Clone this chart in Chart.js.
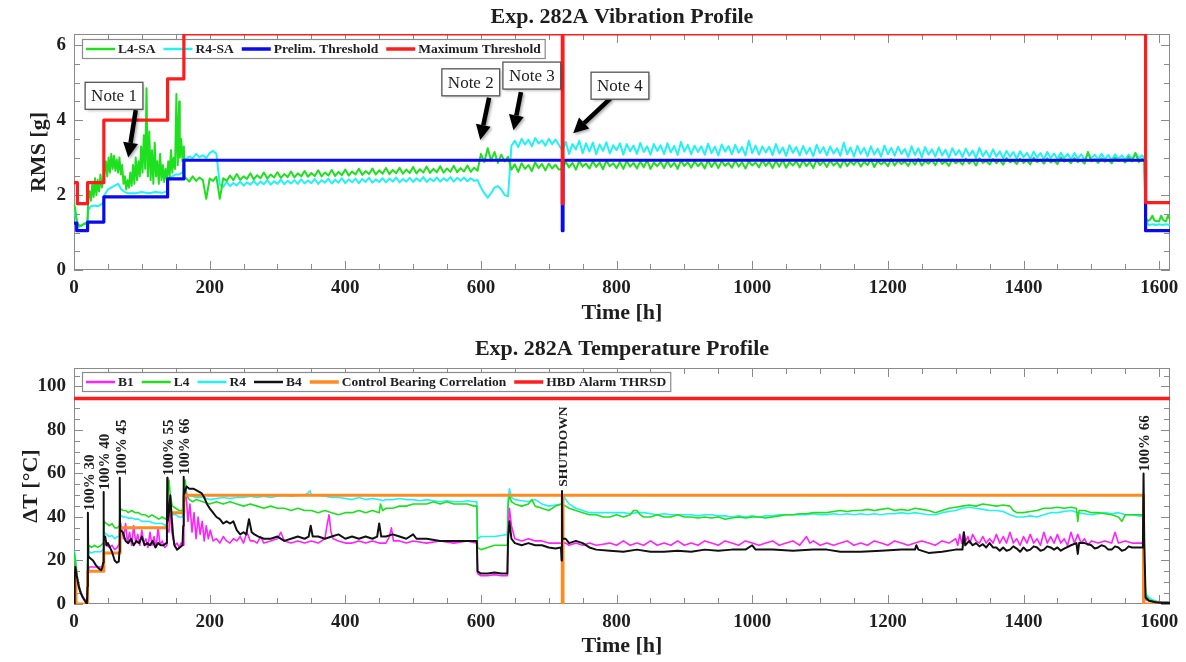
<!DOCTYPE html>
<html>
<head>
<meta charset="utf-8">
<script src="https://cdn.jsdelivr.net/npm/chart.js@4.4.0/dist/chart.umd.min.js"></script>
<style>
  html, body { margin: 0; padding: 0; background: #fff; }
  canvas { display: block; }
</style>
</head>
<body>
<canvas id="vib" width="1186" height="330"></canvas>
<canvas id="temp" width="1186" height="332"></canvas>
<script>
// ---- tick labels ----
const timeTicks = [0, 200, 400, 600, 800, 1000, 1200, 1400, 1600];
const rmsTicks = [0, 2, 4, 6];
const deltaTicks = [0, 20, 40, 60, 80, 100];

// ---- vibration profile (RMS [g]) ----
// early part, read point by point: [hour, g]
const l4Early = [[0,1.8],[2,1.6],[4,1.35],[6,1.2],[10,1.18],[14,1.22],[18,1.25],[20,1.3],[21,1.9],[23,2.1],[25,1.85],[27,2.3],[29,1.95],[31,2.45],[33,2.0],[35,2.4],[37,2.1],[39,2.55],[41,2.2],[43,2.4],[45,2.6],[47,2.9],[49,2.5],[51,3.0],[53,2.6],[55,3.1],[57,2.7],[59,3.05],[61,2.65],[63,2.95],[65,2.6],[67,3.0],[69,2.55],[71,2.8],[73,2.3],[75,2.5],[77,2.15],[79,2.4],[81,2.2],[83,2.6],[85,2.25],[87,2.8],[89,2.3],[91,3.0],[93,2.4],[95,2.9],[97,2.5],[99,3.3],[101,2.6],[103,3.6],[105,2.7],[107,4.85],[108,3.2],[109,2.5],[111,3.7],[113,2.4],[115,3.2],[117,2.3],[119,3.4],[121,2.5],[123,2.9],[125,2.3],[127,3.1],[129,2.4],[131,2.8],[133,2.35],[135,2.7],[137,2.4],[139,2.9],[141,2.5],[143,3.2],[145,2.6],[147,3.0],[149,2.7],[151,4.7],[152,3.4],[153,2.8],[155,4.5],[156,3.0],[158,3.5],[160,2.9],[162,3.3],[163,2.5]];
const r4Early = [[0,1.7],[2,1.45],[4,1.3],[8,1.15],[12,1.2],[16,1.25],[19,1.2],[21,1.6],[25,1.7],[30,1.72],[35,1.7],[40,1.75],[43,1.78],[45,2.0],[50,2.15],[55,2.2],[60,2.25],[65,2.3],[70,2.15],[75,2.08],[80,2.05],[90,2.05],[100,2.08],[110,2.05],[120,2.08],[130,2.06],[137,2.1],[139,2.45],[145,2.5],[150,2.55],[155,2.55],[160,2.6],[163,2.95]];

// 5 h samples from 165 h to 1575 h, in hundredths of g
const bandStart = 165;
const bandStep = 5;
const l4Band = [
  245,236,250,238,247,240,190,244,238,249,
  190,
  245,238,252,240,256,241,250,243,258,242,253,245,260,244,255,247,261,246,256,248,
  263,247,258,250,264,249,259,251,266,250,260,252,267,251,262,253,268,252,263,255,
  270,254,264,256,271,255,266,257,272,256,267,258,273,257,268,259,275,258,269,260,
  276,259,270,261,277,260,271,262,278,261,272,263,279,262,273,265,
  310,288,325,292,315,286,308,290,302,
  268,282,262,285,270,280,264,287,272,283,266,284,271,281,268,
  270,289,274,286,268,291,276,284,271,290,
  275,287,269,292,277,285,272,288,270,291,
  276,286,271,290,274,293,270,287,277,289,
  272,291,275,286,270,292,278,288,273,290,
  277,287,271,293,275,289,272,291,278,286,
  273,292,276,288,271,290,279,287,274,293,
  278,289,272,291,276,294,273,288,279,290,
  274,293,277,289,272,295,280,290,275,292,
  279,288,274,294,277,290,281,293,276,289,
  280,295,275,291,282,289,277,296,279,292,
  283,290,278,294,281,297,279,291,284,293,
  280,296,283,290,278,295,285,292,281,297,
  284,293,279,298,286,291,282,296,285,294,
  281,299,287,292,283,297,286,293,282,300,
  288,294,284,298,287,292,283,301,289,295,
  285,299,288,293,284,315,290,296,286,298,
  289,294,285,300,291,296,287,302,290,312,
  288,297
];
const r4Band = [
  296,303,298,310,301,306,299,312,318,310,
  228,222,235,224,232,226,236,225,234,228,
  238,227,236,229,240,228,237,230,241,229,
  238,231,240,230,242,231,239,232,243,230,
  240,233,244,231,241,233,245,232,242,234,
  244,232,243,235,246,233,242,235,245,234,
  244,236,247,234,243,236,246,235,245,237,
  248,235,244,237,247,236,245,238,248,236,
  246,238,247,237,245,238,240,
  220,205,193,205,220,224,215,200,197,
  332,345,328,350,335,348,330,352,338,346,332,350,336,348,334,
  318,342,310,336,322,345,312,338,316,340,
  309,335,318,341,311,333,320,338,308,336,
  317,332,310,339,315,330,308,336,318,333,
  310,338,314,331,307,342,316,334,309,332,
  315,330,308,337,312,329,306,335,316,331,
  309,334,313,328,306,345,312,332,308,330,
  314,329,307,336,311,327,305,333,313,328,
  306,331,310,326,304,334,312,328,306,330,
  311,325,305,340,309,327,303,331,310,326,
  304,330,308,324,303,332,309,326,305,329,
  310,323,302,330,307,325,301,328,308,322,
  303,327,306,321,300,325,307,320,302,324,
  305,319,299,326,304,318,300,322,303,317,
  298,318,302,315,297,317,301,313,296,316,
  300,312,295,315,299,311,296,313,298,310,
  295,312,297,309,294,311,298,308,295,310,
  296,307,293,309,297,306,294,308,296,312,
  298,306
];
const l4Tail = [[1578,2.9],[1580,1.4],[1583,1.3],[1587,1.35],[1590,1.45],[1593,1.32],[1597,1.3],[1600,1.3],[1603,1.45],[1606,1.33],[1610,1.3],[1613,1.45],[1616,1.35]];
const r4Tail = [[1578,3.0],[1580,1.3],[1585,1.2],[1590,1.22],[1595,1.2],[1600,1.22],[1605,1.2],[1610,1.22],[1616,1.2]];

// thresholds: value holds from this hour on
const prelimSteps = [[0,1.25],[4,1.05],[20,1.28],[44,1.95],[138,2.43],[162,2.93],[720,1.05],[721,2.93],[1580,1.05],[1616,1.05]];
const maxSteps = [[0,2.33],[5,1.77],[20,2.33],[44,4.0],[138,5.1],[162,6.3],[720,1.77],[721,6.3],[1580,1.8],[1616,1.8]];

const noteLabels = ['Note 1', 'Note 2', 'Note 3', 'Note 4'];
const noteAt = [[59,4.65],[585,5.01],[675,5.19],[805,4.92]];
const arrowFrom = [[91,4.27],[612,4.6],[659,4.75],[791,4.58]];
const arrowTo = [[80,3.0],[599,3.47],[648,3.73],[736,3.65]];

// ---- temperature profile (dT [C]) ----
const b1Temp = [[0,12],[2,15],[4,12],[8,7],[12,4],[16,2],[19,1],[20,10],[22,17],[30,17],[40,17],[43,18],[44,28],[48,27],[52,26],[56,27],[60,25],[64,26],[67,28],[68,38],[70,35],[73,30],[76,37],[79,28],[82,33],[85,27],[88,36],[91,28],[94,32],[97,27],[100,34],[103,28],[106,30],[109,26],[112,33],[115,27],[118,31],[121,26],[124,35],[127,27],[130,29],[134,26],[137,27],[138,40],[140,33],[142,45],[144,34],[146,30],[149,27],[152,28],[155,26],[158,28],[161,27],[162,45],[165,52],[168,38],[171,46],[174,33],[177,42],[180,30],[183,40],[186,32],[189,38],[192,29],[195,36],[198,30],[201,34],[205,29],[210,30],[215,28],[220,31],[225,29],[230,28],[235,30],[240,29],[245,31],[250,28],[255,33],[260,29],[265,29],[270,28],[275,31],[280,28],[290,29],[300,30],[305,33],[310,29],[320,28],[330,29],[340,28],[350,29],[360,28],[370,30],[373,36],[376,41],[379,33],[382,30],[390,29],[400,28],[410,28],[420,29],[430,28],[440,29],[450,28],[460,28],[465,31],[468,35],[471,29],[480,29],[490,28],[500,29],[520,28],[540,29],[560,28],[580,29],[594,28],[595,14],[600,13],[610,13],[620,13.5],[630,13],[639,13],[640,32],[642,44],[645,36],[650,30],[660,29],[670,30],[680,29],[690,29],[700,28],[710,28],[719,28],[725,28],[730,27],[740,28],[750,27],[760,28],[770,27],[780,27.5],[790,28],[800,27],[810,29],[820,27],[830,28],[840,27],[850,29],[860,27],[870,28],[880,27],[890,29],[900,27],[910,28],[920,27],[930,29],[940,28],[950,27],[960,29],[970,28],[980,27],[990,29],[1000,28],[1010,27],[1020,28],[1030,29],[1040,27],[1050,28],[1060,29],[1070,27],[1080,31],[1085,28],[1090,29],[1100,27],[1110,28],[1120,27],[1130,28],[1140,29],[1150,27],[1160,28],[1170,27],[1180,29],[1190,28],[1200,27],[1210,29],[1220,28],[1230,27],[1240,28],[1250,29],[1260,28],[1270,27],[1280,29],[1290,28],[1300,30],[1303,27],[1306,32],[1309,28],[1312,33],[1315,29],[1318,31],[1321,28],[1325,32],[1330,29],[1335,28],[1340,31],[1345,28],[1350,30],[1355,28],[1360,32],[1365,28],[1370,31],[1375,28],[1380,33],[1385,28],[1390,30],[1395,27],[1400,31],[1405,28],[1410,32],[1415,28],[1420,30],[1425,27],[1430,33],[1435,28],[1440,31],[1445,28],[1450,32],[1455,28],[1460,30],[1465,27],[1470,33],[1475,28],[1480,32],[1485,28],[1490,30],[1495,27],[1500,29],[1510,28],[1520,29],[1530,28],[1535,33],[1540,28],[1550,29],[1560,28],[1570,28],[1576,28],[1578,10],[1580,2],[1590,1],[1600,0.8],[1616,0.8]];
const l4Temp = [[0,24],[2,20],[5,12],[10,5],[15,2],[19,1],[20,20],[22,27],[26,26],[30,27],[35,26],[40,27],[43,28],[44,38],[48,37],[52,36],[56,37],[60,35],[64,35],[67,36],[68,44],[72,43],[76,43],[80,42],[85,43],[90,42],[95,42],[100,41],[105,41],[110,40],[115,41],[120,40],[125,39],[130,40],[135,39],[137,40],[138,50],[140,57],[142,50],[145,45],[150,44],[155,43],[160,43],[162,55],[164,57],[166,50],[170,48],[175,47],[180,48],[190,47],[200,46],[210,47],[220,46],[230,47],[240,46],[250,45],[260,46],[270,45],[280,44],[290,45],[300,44],[310,44],[320,43],[330,44],[340,43],[350,43],[360,42],[370,43],[380,42],[390,41],[400,42],[410,42],[420,43],[430,42],[440,43],[450,42],[452,46],[455,43],[460,44],[470,44],[480,45],[490,45],[500,46],[510,46],[520,46],[530,47],[540,46],[550,47],[560,46],[570,46],[580,46],[590,45],[594,45],[595,26],[600,25],[610,26],[620,27],[630,27],[639,27],[640,45],[642,50],[645,47],[650,46],[660,45],[670,46],[675,48],[680,45],[690,44],[700,43],[710,45],[719,46],[725,45],[730,44],[740,43],[750,42],[760,41],[770,41],[780,40],[790,40],[800,41],[810,40],[820,41],[825,43],[830,43],[835,41],[840,40],[850,40],[860,41],[870,40],[880,40],[890,41],[900,40],[910,40],[920,39.5],[930,40],[940,39.5],[950,40],[960,39],[970,39.5],[980,40],[990,39.5],[1000,40],[1010,40],[1020,39.5],[1030,40],[1040,40.5],[1050,41],[1060,41],[1070,41.5],[1080,41.5],[1090,42],[1100,42],[1110,42],[1120,42.5],[1130,43],[1140,42.5],[1150,43],[1160,43],[1170,43.5],[1180,43],[1190,43.5],[1200,44],[1210,43],[1220,43.5],[1230,43],[1240,44],[1250,43.5],[1260,43],[1270,42],[1280,43],[1290,44],[1300,44.5],[1310,45],[1320,45.5],[1330,45],[1340,46],[1350,45.5],[1360,45],[1370,45.5],[1380,45],[1385,43],[1390,42],[1400,42],[1410,42.5],[1420,43],[1430,44],[1440,44],[1450,44.5],[1460,44],[1470,44.5],[1478,44],[1480,38],[1482,43],[1490,43],[1500,42],[1510,42],[1520,41.5],[1530,41],[1540,40],[1545,38],[1550,41],[1560,41],[1570,41],[1576,41],[1578,20],[1580,4],[1585,2],[1595,1],[1616,0.8]];
const r4Temp = [[0,20],[1,24],[3,18],[6,10],[10,5],[15,2],[19,1],[20,18],[22,24],[26,23.5],[30,24],[35,24],[40,24],[43,25],[44,33],[48,32],[52,31],[56,31.5],[60,30],[64,31],[67,31],[68,41],[72,40],[76,40],[80,39.5],[85,39.5],[90,39],[95,39],[100,38],[105,38],[110,38],[115,37.5],[120,37],[125,37],[130,37],[135,36],[137,37],[138,45],[142,42],[146,41],[150,41],[155,40],[160,40],[162,52],[164,55],[167,50],[170,50],[180,49],[190,49],[200,48],[210,48.5],[220,49],[230,48.5],[240,49],[250,49],[260,49.5],[270,49],[280,49.5],[290,49],[300,49.5],[310,50],[320,49.5],[330,50],[340,50],[345,51],[348,52],[350,50],[360,50],[370,49.5],[380,49],[390,49],[400,48.5],[410,48],[420,49],[430,48],[440,48.5],[450,48],[455,47.5],[460,48],[470,48],[480,48.5],[490,48],[500,48],[510,47.5],[520,48],[530,47.5],[540,47],[550,47.5],[560,47],[570,47],[580,47.5],[590,47],[594,47],[595,30],[600,31],[610,31],[620,31],[630,31.5],[639,32],[640,48],[642,53],[645,49],[650,48],[660,47.5],[670,47],[680,48],[690,46],[700,45],[710,45.5],[719,46],[722,50],[725,48],[730,46],[740,44],[750,43],[760,42],[770,42],[780,42],[790,42],[800,42],[810,42],[820,41.5],[830,42],[840,42],[850,41.5],[860,41],[870,41.5],[880,41],[890,41],[900,41],[910,41],[920,40.5],[930,41],[940,41],[950,40.5],[960,40.5],[970,40],[980,40.5],[990,40],[1000,40.5],[1010,40],[1020,40.5],[1030,40.5],[1040,41],[1050,41],[1060,41],[1070,41],[1080,41],[1090,41.5],[1100,41],[1110,41],[1120,41.5],[1130,41],[1140,41.5],[1150,41],[1160,41.5],[1170,41],[1180,41.5],[1190,41],[1200,41.5],[1210,41.5],[1220,42],[1230,41.5],[1240,42],[1250,41.5],[1260,41],[1270,41],[1280,42],[1290,42.5],[1300,43],[1310,44],[1320,44.5],[1330,44],[1340,43.5],[1350,43],[1360,43],[1370,42.5],[1380,41],[1390,40],[1400,40],[1410,40.5],[1420,40],[1430,41],[1440,42],[1450,42],[1460,42.5],[1470,43],[1480,42],[1490,41.5],[1500,41],[1510,41.5],[1520,42],[1530,41.5],[1540,42],[1550,41],[1560,41],[1570,40.5],[1576,40.5],[1578,20],[1580,5],[1585,3],[1590,2],[1600,1],[1616,1]];
const b4Temp = [[0,0],[1,12],[2,17],[4,13],[7,8],[10,5],[13,3],[16,1.5],[18,0.5],[19,0],[20,8],[20.5,42],[21,22],[24,21],[28,20],[32,18],[36,16.5],[40,15.5],[42,17],[43,19],[43.5,51.5],[44,30],[46,31],[48,27],[50,28],[53,26],[56,24],[60,20],[63,19],[66,19.5],[67,24],[67.5,58],[68,34],[72,33],[76,29],[80,28],[84,30],[88,27],[92,29],[96,28],[100,31],[104,27],[108,28],[112,27],[116,29],[120,26],[124,28],[128,27],[132,27],[136,28],[137,34],[137.5,58],[138,38],[140,42],[142,50],[144,40],[146,32],[148,27],[152,25],[156,26],[160,27],[161,36],[161.5,58.5],[162,50],[166,54],[170,53],[176,53],[182,52],[188,51],[192,49],[196,46],[200,44],[205,42],[210,40],[215,39],[220,37],[225,38],[230,37],[235,38],[240,34],[245,32],[250,33],[254,32],[258,39],[262,33],[266,32],[272,31],[280,30],[290,30],[300,31],[310,29],[320,30],[330,31],[340,30],[346,31],[349,36],[352,31],[360,31],[370,30],[380,31],[390,32],[400,30],[410,31],[420,30],[430,31],[440,30],[447,31],[450,37],[453,31],[460,31],[470,32],[480,31],[490,30],[500,32],[505,30],[520,30],[540,29],[560,29],[580,29],[594,29],[595,15],[600,14],[610,14],[620,14.5],[630,14],[639,14],[640,30],[642,38],[645,30],[650,28],[660,27],[670,28],[680,27],[690,27],[700,26],[710,25.5],[718,26],[719,20],[719.5,52],[720,30],[725,30],[730,28],[740,29],[750,28],[760,26],[770,25],[790,24.5],[810,24],[830,25],[850,24],[870,24],[890,24.5],[910,24],[930,25],[950,24.5],[970,25],[990,25],[1000,27],[1005,25],[1030,25],[1060,24.5],[1090,25],[1110,25],[1130,24],[1160,24],[1190,24.5],[1220,25],[1240,25],[1242,27],[1245,25],[1260,23.5],[1280,24],[1300,25],[1310,25],[1312,33],[1314,27],[1320,29],[1325,27],[1330,28],[1335,26.5],[1340,27.5],[1345,26],[1350,28],[1355,26],[1360,26],[1365,24.5],[1370,26],[1375,24.5],[1380,25],[1385,26.5],[1390,25.5],[1395,24],[1400,26],[1405,24.5],[1410,25],[1415,26.5],[1420,26],[1425,24.5],[1430,25],[1435,26.5],[1440,26],[1445,25],[1450,26],[1455,24.5],[1460,25.5],[1470,27],[1478,28],[1480,23],[1482,28],[1490,28],[1500,27],[1505,25.5],[1510,26],[1515,27],[1520,26.5],[1525,25],[1530,25],[1535,26.5],[1540,26],[1545,24.5],[1550,25],[1555,26.5],[1560,26],[1570,26],[1576,26],[1577,60],[1578,30],[1580,3],[1585,1.5],[1595,0.8],[1605,0.5],[1616,0.5]];
const controlSteps = [[0,15],[3,0],[20,15],[44,23.5],[68,35],[138,42],[162,50],[720,0],[721,50],[1577,0],[1616,0]];
const alarmLevel = [[0,94.5],[1616,94.5]];

const eventLabels = ['100% 30', '100% 40', '100% 45', '100% 55', '100% 66', 'SHUTDOWN', '100% 66'];
const eventAt = [[20.5,42],[43.5,51.5],[67.5,58],[137.5,58],[161.5,58.5],[719.5,53],[1577,60]];

// ---- helpers ----
const SERIF = "'Liberation Serif', 'Times New Roman', serif";
const INK = '#1e1e1e';

function pairs(list) {
    return list.map(p => ({ x: p[0], y: p[1] }));
}
function sampled(start, step, hundredths) {
    return hundredths.map((v, i) => ({ x: start + i * step, y: v / 100 }));
}

// box with inward ticks on all four sides
const framePlugin = {
    id: 'frame',
    beforeDatasetsDraw(chart, args, opts) {
        const { ctx, chartArea: a, scales: { x, y } } = chart;
        ctx.save();
        ctx.strokeStyle = '#8a8a8a';
        ctx.lineWidth = 1;
        ctx.strokeRect(a.left + 0.5, a.top + 0.5, a.width - 1, a.height - 1);
        ctx.beginPath();
        const nx = Math.floor(x.max / opts.xMinor + 1e-9);
        for (let i = 0; i <= nx; i++) {
            const v = i * opts.xMinor;
            const px = Math.round(x.getPixelForValue(v)) + 0.5;
            const len = Math.abs(v / opts.xMajor - Math.round(v / opts.xMajor)) < 1e-6 ? 9 : 6;
            ctx.moveTo(px, a.bottom); ctx.lineTo(px, a.bottom - len);
            ctx.moveTo(px, a.top); ctx.lineTo(px, a.top + len);
        }
        const ny = Math.floor(y.max / opts.yMinor + 1e-9);
        for (let i = 0; i <= ny; i++) {
            const v = i * opts.yMinor;
            const py = Math.round(y.getPixelForValue(v)) + 0.5;
            const len = Math.abs(v / opts.yMajor - Math.round(v / opts.yMajor)) < 1e-6 ? 9 : 6;
            ctx.moveTo(a.left, py); ctx.lineTo(a.left + len, py);
            ctx.moveTo(a.right, py); ctx.lineTo(a.right - len, py);
        }
        ctx.stroke();
        ctx.restore();
    }
};

// legend in a box at the top left of the plot
const boxLegendPlugin = {
    id: 'boxLegend',
    beforeDatasetsDraw(chart, args, opts) {
        const { ctx, chartArea: a } = chart;
        const items = chart.data.datasets.filter(d => d.label);
        ctx.save();
        ctx.font = `bold ${opts.size}px ${SERIF}`;
        let w = opts.padLeft;
        items.forEach((d, i) => {
            w += opts.line + opts.gap + ctx.measureText(d.label).width + (i < items.length - 1 ? opts.spacing : opts.padRight);
        });
        const x0 = a.left + opts.dx, y0 = a.top + opts.dy, h = opts.height;
        ctx.fillStyle = '#fff';
        ctx.fillRect(x0, y0, w, h);
        ctx.strokeStyle = '#8a8a8a';
        ctx.lineWidth = 1.2;
        ctx.strokeRect(x0 + 0.5, y0 + 0.5, w, h);
        const cy = y0 + h / 2 + 0.5;
        let x = x0 + opts.padLeft;
        items.forEach(d => {
            ctx.strokeStyle = d.borderColor;
            ctx.lineWidth = d.legendWidth;
            ctx.beginPath();
            ctx.moveTo(x, cy);
            ctx.lineTo(x + opts.line, cy);
            ctx.stroke();
            x += opts.line + opts.gap;
            ctx.fillStyle = INK;
            ctx.textBaseline = 'middle';
            ctx.fillText(d.label, x, cy + 1);
            x += ctx.measureText(d.label).width + opts.spacing;
        });
        ctx.restore();
    }
};

// boxed notes with arrows (vibration chart)
const notesPlugin = {
    id: 'notes',
    afterDatasetsDraw(chart) {
        const { ctx, scales: { x, y } } = chart;
        ctx.save();
        ctx.font = `17px ${SERIF}`;
        noteLabels.forEach((label, i) => {
            const fx = x.getPixelForValue(arrowFrom[i][0]), fy = y.getPixelForValue(arrowFrom[i][1]);
            const tx = x.getPixelForValue(arrowTo[i][0]), ty = y.getPixelForValue(arrowTo[i][1]);
            const ang = Math.atan2(ty - fy, tx - fx);
            const head = 15, half = 7.5;
            const bx = tx - Math.cos(ang) * head, by = ty - Math.sin(ang) * head;
            ctx.shadowColor = 'rgba(0,0,0,0.35)';
            ctx.shadowBlur = 3;
            ctx.shadowOffsetX = 1.5;
            ctx.shadowOffsetY = 1.5;
            ctx.strokeStyle = '#000';
            ctx.lineWidth = 4.5;
            ctx.beginPath();
            ctx.moveTo(fx, fy);
            ctx.lineTo(bx, by);
            ctx.stroke();
            ctx.fillStyle = '#000';
            ctx.beginPath();
            ctx.moveTo(tx, ty);
            ctx.lineTo(bx + Math.sin(ang) * half, by - Math.cos(ang) * half);
            ctx.lineTo(bx - Math.sin(ang) * half, by + Math.cos(ang) * half);
            ctx.closePath();
            ctx.fill();

            const cx = x.getPixelForValue(noteAt[i][0]), cy = y.getPixelForValue(noteAt[i][1]);
            const w = ctx.measureText(label).width + 12, h = 27;
            ctx.fillStyle = '#fff';
            ctx.fillRect(cx - w / 2, cy - h / 2, w, h);
            ctx.shadowColor = 'transparent';
            ctx.strokeStyle = '#555';
            ctx.lineWidth = 1.3;
            ctx.strokeRect(cx - w / 2, cy - h / 2, w, h);
            ctx.fillStyle = INK;
            ctx.textAlign = 'center';
            ctx.textBaseline = 'middle';
            ctx.fillText(label, cx, cy + 1);
        });
        ctx.restore();
    }
};

// rotated load step labels (temperature chart)
const eventsPlugin = {
    id: 'events',
    afterDatasetsDraw(chart) {
        const { ctx, scales: { x, y } } = chart;
        eventLabels.forEach((label, i) => {
            const px = x.getPixelForValue(eventAt[i][0]), py = y.getPixelForValue(eventAt[i][1]);
            ctx.save();
            ctx.translate(px + 2, py - 2);
            ctx.rotate(-Math.PI / 2);
            ctx.font = `bold ${label === 'SHUTDOWN' ? 13.5 : 15}px ${SERIF}`;
            ctx.fillStyle = INK;
            ctx.textAlign = 'left';
            ctx.textBaseline = 'middle';
            ctx.fillText(label, 0, 0);
            ctx.restore();
        });
    }
};

function tickFont() { return { family: SERIF, size: 19, weight: 'bold' }; }
function titleFont() { return { family: SERIF, size: 22, weight: 'bold' }; }

function axes(yMax, yTicks, yTitle, xHeight, xTitlePad, yTitlePad) {
    return {
        x: {
            type: 'linear', min: 0, max: 1616,
            afterFit: s => { s.height = xHeight; },
            afterBuildTicks: s => { s.ticks = timeTicks.map(v => ({ value: v })); },
            grid: { display: false, drawTicks: false },
            border: { display: false },
            ticks: { padding: 7, maxRotation: 0, autoSkip: false, color: INK, font: tickFont(), callback: v => String(v) },
            title: { display: true, text: 'Time [h]', color: INK, font: titleFont(), padding: { top: 0, bottom: xTitlePad } }
        },
        y: {
            min: 0, max: yMax,
            afterFit: s => { s.width = 74; },
            afterBuildTicks: s => { s.ticks = yTicks.map(v => ({ value: v })); },
            grid: { display: false, drawTicks: false },
            border: { display: false },
            ticks: { padding: 8, autoSkip: false, color: INK, font: tickFont(), callback: v => String(v) },
            title: { display: true, text: yTitle, color: INK, font: titleFont(), padding: { top: yTitlePad, bottom: 0 } }
        }
    };
}

function lineSet(label, color, width, legendWidth, points, order, stepped) {
    return {
        label: label, data: points, borderColor: color, backgroundColor: color,
        borderWidth: width, legendWidth: legendWidth, order: order,
        stepped: stepped || false, pointRadius: 0, tension: 0, fill: false,
        borderJoinStyle: 'round'
    };
}

// ---- vibration chart ----
new Chart(document.getElementById('vib'), {
    type: 'line',
    data: {
        datasets: [
            lineSet('L4-SA', '#1fe01f', 2, 2.5, pairs(l4Early).concat(sampled(bandStart, bandStep, l4Band), pairs(l4Tail)), 2),
            lineSet('R4-SA', '#22f2f2', 2, 2.5, pairs(r4Early).concat(sampled(bandStart, bandStep, r4Band), pairs(r4Tail)), 3),
            lineSet('Prelim. Threshold', '#0a0af0', 3.2, 3.5, pairs(prelimSteps), 1, true),
            lineSet('Maximum Threshold', '#ff1c1c', 3.2, 3.5, pairs(maxSteps), 0, true)
        ]
    },
    options: {
        responsive: false, animation: false, events: [], devicePixelRatio: 1,
        layout: { padding: { left: 0, right: 16, top: 0, bottom: 0 } },
        scales: axes(6.3, rmsTicks, 'RMS [g]', 60, 3.8, 26),
        plugins: {
            legend: { display: false },
            tooltip: { enabled: false },
            title: { display: true, text: 'Exp. 282A Vibration Profile', fullSize: false, color: INK, font: titleFont(), padding: { top: 4, bottom: 3.6 } },
            frame: { xMajor: 200, xMinor: 50, yMajor: 2, yMinor: 0.5 },
            boxLegend: { size: 13.5, dx: 8, dy: 5, height: 19, line: 29, gap: 3, spacing: 8, padLeft: 4, padRight: 4 }
        }
    },
    plugins: [framePlugin, boxLegendPlugin, notesPlugin]
});

// ---- temperature chart ----
new Chart(document.getElementById('temp'), {
    type: 'line',
    data: {
        datasets: [
            lineSet('B1', '#ff22ff', 1.6, 2.5, pairs(b1Temp), 3),
            lineSet('L4', '#1fe01f', 1.6, 2.5, pairs(l4Temp), 4),
            lineSet('R4', '#22f2f2', 1.6, 2.5, pairs(r4Temp), 5),
            lineSet('B4', '#111111', 2, 2.5, pairs(b4Temp), 0),
            lineSet('Control Bearing Correlation', '#ff8a1f', 3, 3.5, pairs(controlSteps), 1, true),
            lineSet('HBD Alarm THRSD', '#ff1c1c', 3.5, 3.5, pairs(alarmLevel), 2)
        ]
    },
    options: {
        responsive: false, animation: false, events: [], devicePixelRatio: 1,
        layout: { padding: { left: 0, right: 16, top: 0, bottom: 0 } },
        scales: axes(108.5, deltaTicks, 'ΔT [°C]', 58, 2.8, 18),
        plugins: {
            legend: { display: false },
            tooltip: { enabled: false },
            title: { display: true, text: 'Exp. 282A Temperature Profile', fullSize: false, color: INK, font: titleFont(), padding: { top: 6, bottom: 5.6 } },
            frame: { xMajor: 200, xMinor: 50, yMajor: 20, yMinor: 5 },
            boxLegend: { size: 13.5, dx: 8, dy: 4, height: 19, line: 29, gap: 3, spacing: 8, padLeft: 4, padRight: 4 }
        }
    },
    plugins: [framePlugin, boxLegendPlugin, eventsPlugin]
});
</script>
</body>
</html>
